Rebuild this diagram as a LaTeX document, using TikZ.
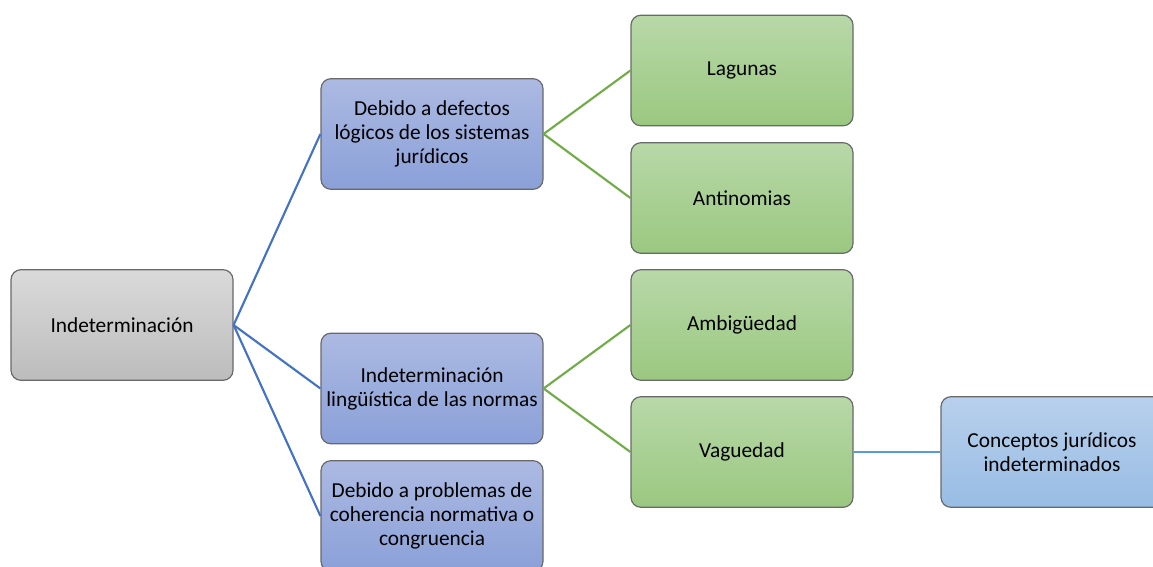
\documentclass[tikz,border=0pt]{standalone}
\usepackage{fontspec}
\setmainfont{Carlito}
\definecolor{bordergray}{RGB}{105,105,105}
\definecolor{graytop}{RGB}{218,218,218}
\definecolor{graybot}{RGB}{188,188,188}
\definecolor{bluetop}{RGB}{172,186,226}
\definecolor{bluebot}{RGB}{138,160,216}
\definecolor{greentop}{RGB}{184,216,168}
\definecolor{greenbot}{RGB}{154,200,128}
\definecolor{lbluetop}{RGB}{184,208,236}
\definecolor{lbluebot}{RGB}{152,188,228}
\definecolor{linkblue}{RGB}{68,114,196}
\definecolor{linkgreen}{RGB}{112,173,71}
\definecolor{linklblue}{RGB}{91,155,213}
\tikzset{
  box/.style={draw=bordergray, line width=0.9pt, rounded corners=7.5pt,
    minimum width=166.5pt, minimum height=83pt, inner sep=0pt,
    align=center, font=\fontsize{16}{18}\selectfont, text=black},
  graybox/.style={box, top color=graytop, bottom color=graybot},
  bluebox/.style={box, top color=bluetop, bottom color=bluebot},
  greenbox/.style={box, top color=greentop, bottom color=greenbot},
  lbluebox/.style={box, top color=lbluetop, bottom color=lbluebot},
  lnblue/.style={draw=linkblue, line width=1.6pt},
  lngreen/.style={draw=linkgreen, line width=1.6pt},
  lnlblue/.style={draw=linklblue, line width=1.6pt}
}
\begin{document}
\begin{tikzpicture}[x=0.75pt,y=-0.75pt]
\useasboundingbox (0,0) rectangle (1153,567);
\clip (0,0) rectangle (1153,567);
\node[graybox] (ind) at (122,325) {Indeterminación};
\node[bluebox] (b1) at (432,134) {Debido a defectos\\lógicos de los sistemas\\jurídicos};
\node[bluebox] (b2) at (432,388.5) {Indeterminación\\lingüística de las normas};
\node[bluebox] (b3) at (432,516) {Debido a problemas de\\coherencia normativa o\\congruencia};
\node[greenbox] (g1) at (742,70.5) {Lagunas};
\node[greenbox] (g2) at (742,198) {Antinomias};
\node[greenbox] (g3) at (742,325) {Ambigüedad};
\node[greenbox] (g4) at (742,452) {Vaguedad};
\node[lbluebox] (c) at (1052,452) {Conceptos jurídicos\\indeterminados};
\draw[lnblue] (ind.east) -- (b1.west);
\draw[lnblue] (ind.east) -- (b2.west);
\draw[lnblue] (ind.east) -- (b3.west);
\draw[lngreen] (b1.east) -- (g1.west);
\draw[lngreen] (b1.east) -- (g2.west);
\draw[lngreen] (b2.east) -- (g3.west);
\draw[lngreen] (b2.east) -- (g4.west);
\draw[lnlblue] (g4.east) -- (c.west);
\end{tikzpicture}
\end{document}
